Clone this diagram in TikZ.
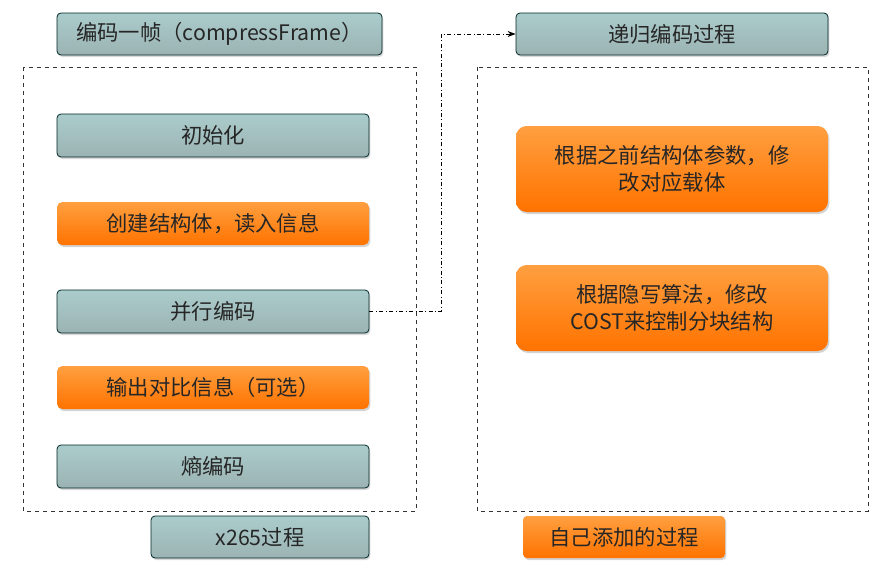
\documentclass[tikz,border=0pt]{standalone}
\usepackage{fontspec}
\setmainfont{Noto Sans CJK SC}
\usetikzlibrary{arrows.meta,shadows}
\tikzset{
 graybox/.style={draw=black!70!teal,line width=0.6pt,rounded corners=3pt,top color=gray!35!teal!40!white,bottom color=gray!70!teal!60!white,drop shadow={opacity=0.3,shadow xshift=1pt,shadow yshift=-1.5pt},font=\fontsize{16}{20}\selectfont,text=black!85},
 orbox/.style={rounded corners=4pt,top color=orange!75!white,bottom color=orange!90!red,drop shadow={opacity=0.35,shadow xshift=1pt,shadow yshift=-1.5pt},font=\fontsize{16}{20}\selectfont,text=black!85},
 dbox/.style={draw=black!80,dashed,line width=0.6pt},
 link/.style={dash dot,line width=0.7pt,-{Stealth[length=6pt]}}
}
\begin{document}
\begin{tikzpicture}[x=0.75pt,y=-0.75pt]
\useasboundingbox (0,0) rectangle (886,564);
\draw[dbox] (23,67) rectangle (416,511);
\draw[dbox] (477,67) rectangle (868,511);
\node[graybox,minimum width=325*0.75pt,minimum height=42*0.75pt] (cf) at (219.5,34) {编码一帧（compressFrame）};
\node[graybox,minimum width=312*0.75pt,minimum height=43*0.75pt] (init) at (213,135.5) {初始化};
\node[orbox,minimum width=312*0.75pt,minimum height=43*0.75pt] (cj) at (213,223.5) {创建结构体，读入信息};
\node[graybox,minimum width=312*0.75pt,minimum height=43*0.75pt] (bx) at (213,311.5) {并行编码};
\node[orbox,minimum width=312*0.75pt,minimum height=43*0.75pt] (sc) at (213,387.5) {输出对比信息（可选）};
\node[graybox,minimum width=312*0.75pt,minimum height=43*0.75pt] (sb) at (213,466.5) {熵编码};
\node[graybox,minimum width=218*0.75pt,minimum height=42*0.75pt] (x265) at (260,537) {x265过程};
\node[graybox,minimum width=312*0.75pt,minimum height=42*0.75pt] (dg) at (672,34) {递归编码过程};
\node[orbox,rounded corners=8pt,minimum width=312*0.75pt,minimum height=86*0.75pt,align=center] (r1) at (672,169) {根据之前结构体参数，修\\改对应载体};
\node[orbox,rounded corners=8pt,minimum width=312*0.75pt,minimum height=86*0.75pt,align=center] (r2) at (672,308) {根据隐写算法，修改\\COST来控制分块结构};
\node[orbox,rounded corners=3pt,minimum width=202*0.75pt,minimum height=42*0.75pt] (zj) at (624,537) {自己添加的过程};
\coordinate (k1) at (441,311.5);
\coordinate (k2) at (441,34);
\draw[link] (bx.east) -- (k1) -- (k2) -- (dg.west);
\end{tikzpicture}
\end{document}
